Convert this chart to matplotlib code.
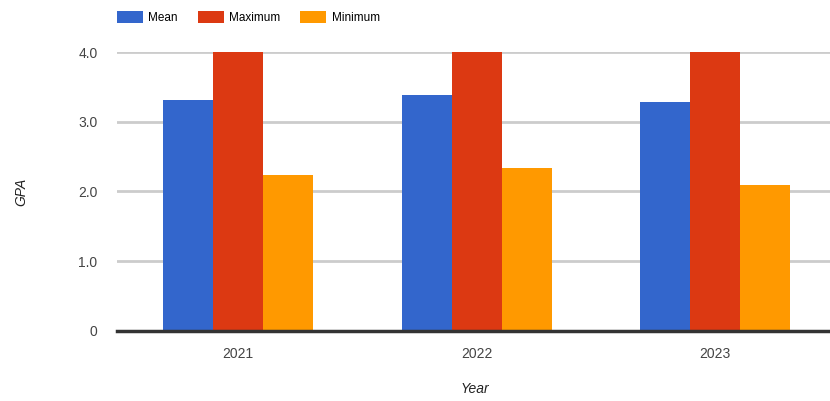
import numpy as np
import matplotlib.pyplot as plt

years = ["2021", "2022", "2023"]
series = ["Mean", "Maximum", "Minimum"]
mean_gpa = [3.31, 3.38, 3.28]
max_gpa = [4.0, 4.0, 4.0]
min_gpa = [2.23, 2.33, 2.10]
yticks = [0, 1.0, 2.0, 3.0, 4.0]
ytick_labels = ["0", "1.0", "2.0", "3.0", "4.0"]

colors = ["#3366cc", "#dc3912", "#ff9900"]

plt.rcParams["font.family"] = ["Liberation Sans", "DejaVu Sans"]

fig = plt.figure(figsize=(8.3, 4.01), dpi=100)
ax = fig.add_axes([0.141, 0.175, 0.862, 0.695])

x = np.arange(len(years))
w = 0.21
for i, (vals, name) in enumerate(zip([mean_gpa, max_gpa, min_gpa], series)):
    ax.bar(x + (i - 1) * w + 0.008, vals, width=w, color=colors[i], label=name,
           linewidth=0, zorder=3, clip_on=False)

ax.set_xlim(-0.5, 2.5)
ax.set_ylim(0, 4)
ax.set_yticks(yticks)
ax.set_yticklabels(ytick_labels)
ax.set_xticks(x + 0.008)
ax.set_xticklabels(years)

ax.yaxis.grid(True, color="#cccccc", linewidth=2, zorder=0)
ax.set_axisbelow(True)
for s in ["top", "right", "left"]:
    ax.spines[s].set_visible(False)
ax.spines["bottom"].set_color("#333333")
ax.spines["bottom"].set_linewidth(2.5)
ax.spines["bottom"].set_zorder(4)

ax.tick_params(axis="both", length=0, labelsize=10, colors="#444444")
ax.tick_params(axis="x", pad=12)
ax.tick_params(axis="y", pad=14)

ax.set_ylabel("GPA", fontstyle="italic", fontsize=10, color="#222222", labelpad=36)
ax.set_xlabel("Year", fontstyle="italic", fontsize=10, color="#222222", labelpad=15)

ax.legend(loc="lower left", bbox_to_anchor=(0.0, 1.10), ncol=3, frameon=False,
          fontsize=8.5, handlelength=2.2, handleheight=1.2, handletextpad=0.45,
          columnspacing=1.7, borderaxespad=0, borderpad=0)

fig.savefig("out.png", dpi=100)
